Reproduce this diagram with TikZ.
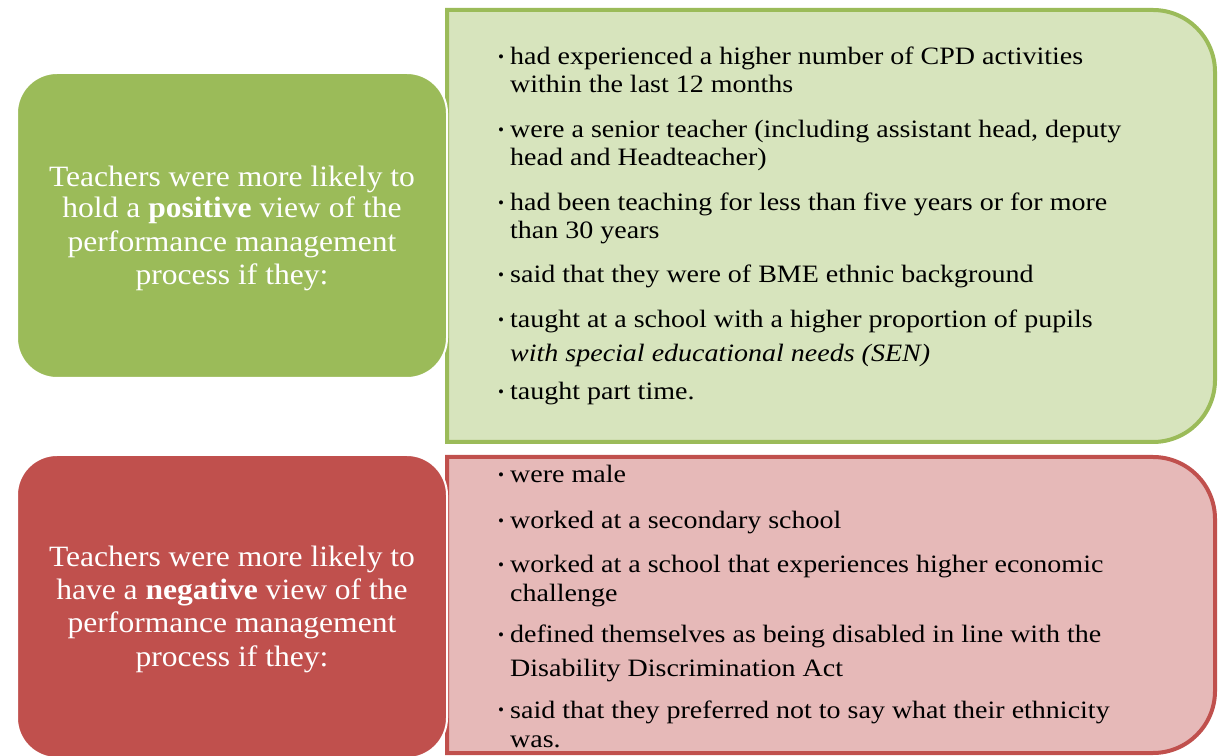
\documentclass[tikz,border=0pt]{standalone}
\usepackage{fontspec}
\setmainfont{Liberation Serif}
\newfontfamily\itemfont[FakeStretch=1.12]{Liberation Serif}
\newfontfamily\headfont[FakeStretch=1.07]{Liberation Serif}
\definecolor{gdark}{HTML}{9BBB59}
\definecolor{glight}{HTML}{D7E4BD}
\definecolor{rdark}{HTML}{C0504D}
\definecolor{rlight}{HTML}{E6B9B8}
\tikzset{
  headbox/.style={line width=2pt, draw=white, rounded corners=40pt},
  listbox/.style={line width=4pt},
  headline/.style={anchor=base, inner sep=0pt, text=white, font=\headfont\fontsize{29.5}{29.5}\selectfont},
  itemline/.style={anchor=base west, inner sep=0pt, text=black, font=\itemfont\fontsize{25}{25}\selectfont},
  bul/.style={anchor=base west, inner sep=0pt, text=black, font=\fontsize{17}{17}\selectfont},
}
\begin{document}
\begin{tikzpicture}[x=1pt,y=1pt]
\useasboundingbox (0,0) rectangle (1218,755);
% right list boxes
\filldraw[listbox, draw=gdark, fill=glight]
  (447,313) -- (447,745) -- (1153,745) arc[start angle=90,end angle=0,radius=62]
  -- (1215,375) arc[start angle=0,end angle=-90,radius=62] -- cycle;
\filldraw[listbox, draw=rdark, fill=rlight]
  (447,2) -- (447,298) -- (1153,298) arc[start angle=90,end angle=0,radius=62]
  -- (1215,64) arc[start angle=0,end angle=-90,radius=62] -- cycle;
% left heading boxes
\filldraw[headbox, fill=gdark] (17,377) rectangle (447,682);
\filldraw[headbox, fill=rdark] (17,-3) rectangle (447,300);
% green heading text
\node[headline] (g1) at (232,568) {Teachers were more likely to};
\node[headline] (g2) at (232,537) {hold a \textbf{positive} view of the};
\node[headline] (g3) at (232,503) {performance management};
\node[headline] (g4) at (232,470) {process if they:};
% red heading text
\node[headline] (r1) at (232,188) {Teachers were more likely to};
\node[headline] (r2) at (232,155) {have a \textbf{negative} view of the};
\node[headline] (r3) at (232,122) {performance management};
\node[headline] (r4) at (232,88) {process if they:};
% green items
\node[bul] (gb1) at (498,692) {•};
\node[itemline] (gi1a) at (510,690) {had experienced a higher number of CPD activities};
\node[itemline] (gi1b) at (510,662) {within the last 12 months};
\node[bul] (gb2) at (498,619) {•};
\node[itemline] (gi2a) at (510,617) {were a senior teacher (including assistant head, deputy};
\node[itemline] (gi2b) at (510,589) {head and Headteacher)};
\node[bul] (gb3) at (498,546) {•};
\node[itemline] (gi3a) at (510,544) {had been teaching for less than five years or for more};
\node[itemline] (gi3b) at (510,516) {than 30 years};
\node[bul] (gb4) at (498,474) {•};
\node[itemline] (gi4a) at (510,472) {said that they were of BME ethnic background};
\node[bul] (gb5) at (498,429) {•};
\node[itemline] (gi5a) at (510,427) {taught at a school with a higher proportion of pupils};
\node[itemline] (gi5b) at (510,393) {\textit{with special educational needs (SEN)}};
\node[bul] (gb6) at (498,357) {•};
\node[itemline] (gi6a) at (510,355) {taught part time.};
% red items
\node[bul] (rb1) at (498,274) {•};
\node[itemline] (ri1a) at (510,272) {were male};
\node[bul] (rb2) at (498,228) {•};
\node[itemline] (ri2a) at (510,226) {worked at a secondary school};
\node[bul] (rb3) at (498,184) {•};
\node[itemline] (ri3a) at (510,182) {worked at a school that experiences higher economic};
\node[itemline] (ri3b) at (510,153) {challenge};
\node[bul] (rb4) at (498,114) {•};
\node[itemline] (ri4a) at (510,112) {defined themselves as being disabled in line with the};
\node[itemline] (ri4b) at (510,78) {Disability Discrimination Act};
\node[bul] (rb5) at (498,39) {•};
\node[itemline] (ri5a) at (510,37) {said that they preferred not to say what their ethnicity};
\node[itemline] (ri5b) at (510,8) {was.};
\end{tikzpicture}
\end{document}
